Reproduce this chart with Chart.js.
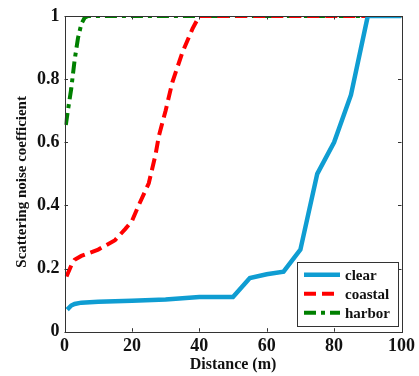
<!DOCTYPE html>
<html><head><meta charset="utf-8">
<script src="https://cdn.jsdelivr.net/npm/chart.js@4"></script>
<style>html,body{margin:0;padding:0;background:#fff}canvas{display:block}</style>
</head><body>
<canvas id="c" width="419" height="376"></canvas>
<script>
const clearX   = [0.8, 2, 3, 5, 10, 20, 30, 40, 50, 55, 60, 65, 70, 75, 80, 85, 90, 100];
const clearY   = [0.07, 0.083, 0.088, 0.092, 0.095, 0.098, 0.102, 0.11, 0.11, 0.17, 0.182, 0.19, 0.26, 0.5, 0.6, 0.75, 1, 1];
const coastalX = [0.6, 2, 3, 5, 10, 15, 18, 20, 22, 25, 27, 28, 30, 32, 35, 38, 40, 100];
const coastalY = [0.175, 0.21, 0.228, 0.24, 0.26, 0.29, 0.325, 0.35, 0.4, 0.47, 0.56, 0.62, 0.7, 0.79, 0.885, 0.96, 1, 1];
const harborX  = [0.4, 1, 2, 3, 4, 5, 6, 7, 100];
const harborY  = [0.655, 0.7, 0.77, 0.86, 0.93, 0.975, 0.995, 1, 1];
const seriesNames = ['clear', 'coastal', 'harbor'];
const xTickLabels = ['0', '20', '40', '60', '80', '100'];
const yTickLabels = ['0', '0.2', '0.4', '0.6', '0.8', '1'];
const xTitle = 'Distance (m)';
const yTitle = 'Scattering noise coefficient';

const pts = (xs, ys) => xs.map((x, i) => ({x, y: ys[i]}));
const FONT = '"Liberation Serif", "Times New Roman", serif';

const frame = {
  id: 'frame',
  afterDraw(chart) {
    const {ctx, chartArea: a, scales: {x, y}} = chart;
    ctx.save();
    ctx.strokeStyle = '#333';
    ctx.lineWidth = 1;
    ctx.strokeRect(Math.round(a.left) + 0.5, Math.round(a.top) + 0.5, Math.round(a.right - a.left), Math.round(a.bottom - a.top));
    const tl = 3.5;
    ctx.beginPath();
    x.ticks.forEach(t => {
      const px = Math.round(x.getPixelForValue(t.value)) + 0.5;
      ctx.moveTo(px, a.bottom); ctx.lineTo(px, a.bottom - tl);
      ctx.moveTo(px, a.top); ctx.lineTo(px, a.top + tl);
    });
    y.ticks.forEach(t => {
      const py = Math.round(y.getPixelForValue(t.value)) + 0.5;
      ctx.moveTo(a.left, py); ctx.lineTo(a.left + tl, py);
      ctx.moveTo(a.right, py); ctx.lineTo(a.right - tl, py);
    });
    ctx.stroke();

    // y title
    ctx.fillStyle = '#111';
    ctx.font = 'bold 15px ' + FONT;
    ctx.textAlign = 'center';
    ctx.textBaseline = 'middle';
    ctx.translate(22, (a.top + a.bottom) / 2 + 8);
    ctx.rotate(-Math.PI / 2);
    ctx.fillText(yTitle, 0, 0);
    ctx.restore();

    // legend
    ctx.save();
    const bw = 101, bh = 64;
    const bx = a.right - 3.5 - bw, by = a.bottom - 6 - bh;
    ctx.fillStyle = '#fff';
    ctx.fillRect(bx, by, bw, bh);
    ctx.strokeStyle = '#333';
    ctx.lineWidth = 1;
    ctx.strokeRect(Math.round(bx) + 0.5, Math.round(by) + 0.5, bw, bh);
    chart.data.datasets.forEach((ds, i) => {
      const ly = by + 13 + i * 19;
      ctx.strokeStyle = ds.borderColor;
      ctx.lineWidth = ds.borderWidth;
      ctx.setLineDash(ds.borderDash || []);
      ctx.beginPath();
      ctx.moveTo(bx + 7, ly); ctx.lineTo(bx + 43, ly);
      ctx.stroke();
      ctx.setLineDash([]);
      ctx.fillStyle = '#111';
      ctx.font = 'bold 15px ' + FONT;
      ctx.textAlign = 'left';
      ctx.textBaseline = 'middle';
      ctx.fillText(ds.label, bx + 48, ly + 1);
    });
    ctx.restore();
  }
};

new Chart(document.getElementById('c'), {
  type: 'line',
  data: {
    datasets: [
      {label: seriesNames[0], data: pts(clearX, clearY), borderColor: '#0f9dd2', borderWidth: 4.5, pointRadius: 0, tension: 0, fill: false},
      {label: seriesNames[1], data: pts(coastalX, coastalY), borderColor: '#ff0000', borderWidth: 4, borderDash: [12, 6], pointRadius: 0, tension: 0, fill: false},
      {label: seriesNames[2], data: pts(harborX, harborY), borderColor: '#008000', borderWidth: 4, borderDash: [12, 5, 4, 5], pointRadius: 0, tension: 0, fill: false}
    ]
  },
  options: {
    responsive: false,
    animation: false,
    devicePixelRatio: 1,
    layout: {padding: {top: 16, right: 13, left: 0, bottom: 0}},
    plugins: {legend: {display: false}, tooltip: {enabled: false}},
    scales: {
      x: {
        type: 'linear', min: 0, max: 100,
        grid: {display: false, drawTicks: false},
        border: {display: false},
        afterBuildTicks: s => { s.ticks = xTickLabels.map(v => ({value: parseFloat(v)})); },
        ticks: {padding: 4, color: '#111', font: {family: FONT, size: 18, weight: 'bold'}, maxRotation: 0,
          callback: (v, i) => xTickLabels[i]},
        title: {display: true, text: xTitle, color: '#111', padding: {top: 0, bottom: 2}, font: {family: FONT, size: 16, weight: 'bold'}},
        afterFit: s => { s.height = 44.3; }
      },
      y: {
        type: 'linear', min: 0, max: 1,
        grid: {display: false, drawTicks: false},
        border: {display: false},
        afterBuildTicks: s => { s.ticks = yTickLabels.map(v => ({value: parseFloat(v)})); },
        ticks: {padding: 5, color: '#111', font: {family: FONT, size: 18, weight: 'bold'},
          callback: (v, i) => yTickLabels[i]},
        afterFit: s => { s.width = 64.5; }
      }
    }
  },
  plugins: [frame]
});
</script>
</body></html>
